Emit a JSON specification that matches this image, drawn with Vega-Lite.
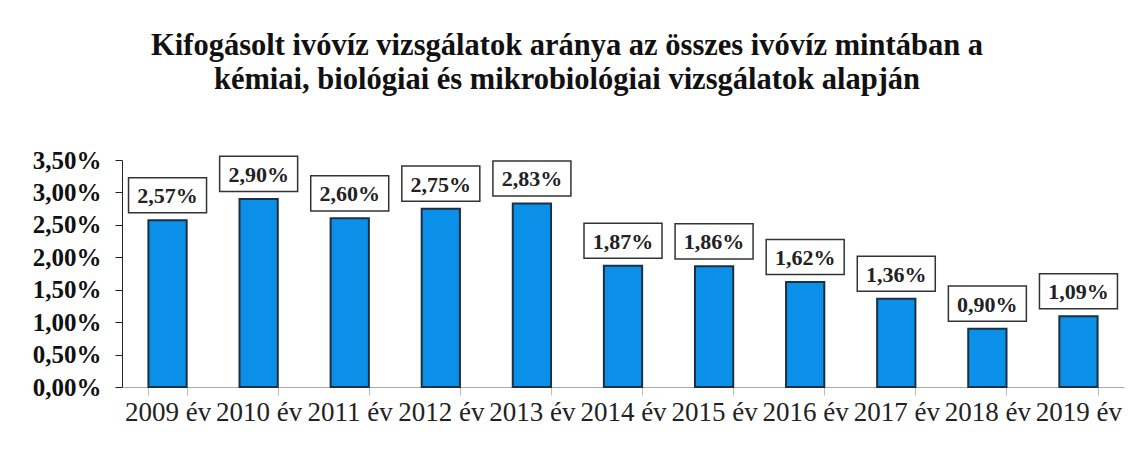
{
  "$schema": "https://vega.github.io/schema/vega-lite/v6.json",
  "width": 1002,
  "height": 227,
  "autosize": "none",
  "padding": {"left": 122, "top": 160, "right": 7, "bottom": 75},
  "background": "white",
  "config": {
    "view": {"stroke": null},
    "locale": {"number": {"decimal": ",", "thousands": " ", "grouping": [3], "currency": ["", " Ft"]}},
    "font": "Liberation Serif, Times New Roman, serif"
  },
  "title": {
    "text": ["Kifogásolt ivóvíz vizsgálatok aránya az összes ivóvíz mintában a", "kémiai, biológiai és mikrobiológiai vizsgálatok alapján"],
    "font": "Liberation Serif, Times New Roman, serif",
    "fontSize": 30.5,
    "fontWeight": "bold",
    "color": "#111",
    "anchor": "middle",
    "dx": -56,
    "offset": 53,
    "lineHeight": 34
  },
  "data": {
    "values": [
      {"ev": "2009 év", "arany": 0.0257},
      {"ev": "2010 év", "arany": 0.0290},
      {"ev": "2011 év", "arany": 0.0260},
      {"ev": "2012 év", "arany": 0.0275},
      {"ev": "2013 év", "arany": 0.0283},
      {"ev": "2014 év", "arany": 0.0187},
      {"ev": "2015 év", "arany": 0.0186},
      {"ev": "2016 év", "arany": 0.0162},
      {"ev": "2017 év", "arany": 0.0136},
      {"ev": "2018 év", "arany": 0.0090},
      {"ev": "2019 év", "arany": 0.0109}
    ]
  },
  "encoding": {
    "x": {
      "field": "ev",
      "type": "nominal",
      "sort": null,
      "scale": {"paddingInner": 0.58, "paddingOuter": 0.29},
      "axis": {
        "title": null,
        "labelAngle": 0,
        "labelFont": "Liberation Serif, Times New Roman, serif",
        "labelFontSize": 27,
        "labelColor": "#222",
        "labelPadding": 4,
        "domainColor": "#aaa",
        "tickColor": "#bbb",
        "tickBand": "extent",
        "tickSize": 8
      }
    },
    "y": {
      "field": "arany",
      "type": "quantitative",
      "scale": {"domain": [0, 0.035], "nice": false},
      "axis": {
        "title": null,
        "values": [0, 0.005, 0.01, 0.015, 0.02, 0.025, 0.03, 0.035],
        "format": ".2%",
        "grid": false,
        "labelFont": "Liberation Serif, Times New Roman, serif",
        "labelFontSize": 25,
        "labelFontWeight": "bold",
        "labelColor": "#111",
        "labelPadding": 14,
        "domainColor": "#222",
        "tickColor": "#222",
        "tickSize": 7
      }
    }
  },
  "layer": [
    {
      "mark": {"type": "bar", "fill": "#0A90E8", "stroke": "#1E2F40", "strokeWidth": 2}
    },
    {
      "mark": {
        "type": "point",
        "shape": "M-1,-0.45L1,-0.45L1,0.45L-1,0.45Z",
        "size": 6084,
        "filled": true,
        "fill": "white",
        "stroke": "#333",
        "strokeWidth": 1.5,
        "opacity": 1,
        "yOffset": -25
      }
    },
    {
      "mark": {
        "type": "text",
        "font": "Liberation Serif, Times New Roman, serif",
        "fontSize": 22,
        "fontWeight": "bold",
        "color": "#222",
        "baseline": "middle",
        "align": "center",
        "yOffset": -24
      },
      "encoding": {"text": {"field": "arany", "type": "quantitative", "format": ".2%"}}
    }
  ]
}
